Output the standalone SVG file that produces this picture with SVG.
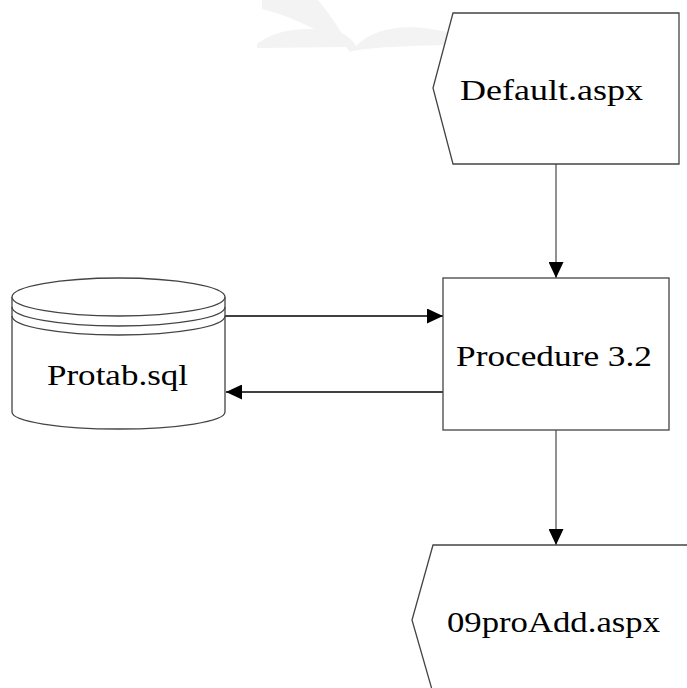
<svg xmlns="http://www.w3.org/2000/svg" width="687" height="688" viewBox="0 0 687 688">
  <style>
    .shape { fill: #ffffff; stroke: #444444; stroke-width: 1.3; }
    .label { font-family: "Liberation Serif", "Times New Roman", serif; font-size: 30px; fill: #000000; }
    .conn { fill: none; stroke-width: 1.3; }
  </style>
  <defs>
    <marker id="arrow" markerUnits="userSpaceOnUse" markerWidth="16" markerHeight="15" refX="16" refY="7.5" orient="auto">
      <path d="M0,0 L16,7.5 L0,15 Z" fill="#000000"/>
    </marker>
  </defs>
  <rect width="687" height="688" fill="#ffffff"/>
  <g id="watermark" fill="#f3f3f3">
    <path d="M262 0 L318 0 Q336 22 350 47 L338 44 Q305 20 262 9 Z"/>
    <path d="M257 44 Q285 22 340 32 Q352 38 356 46 Q385 18 447 32 L447 45 Q360 47 350 52 L346 47 L257 48 Z"/>
  </g>
  <g id="connectors">
    <line class="conn" x1="556" y1="164" x2="556" y2="278" stroke="#555555" marker-end="url(#arrow)"/>
    <line class="conn" x1="225" y1="316" x2="443" y2="316" stroke="#000000" marker-end="url(#arrow)"/>
    <line class="conn" x1="443" y1="392" x2="226" y2="392" stroke="#000000" marker-end="url(#arrow)"/>
    <line class="conn" x1="556" y1="430" x2="556" y2="545" stroke="#555555" marker-end="url(#arrow)"/>
  </g>
  <g id="node-default">
    <path class="shape" d="M453,13 L679,13 L679,164 L453,164 L433,88 Z"/>
    <text class="label" x="460" y="100" textLength="183" lengthAdjust="spacingAndGlyphs">Default.aspx</text>
  </g>
  <g id="node-procedure">
    <rect class="shape" x="443" y="278" width="226" height="152"/>
    <text class="label" x="456" y="366" textLength="196" lengthAdjust="spacingAndGlyphs">Procedure 3.2</text>
  </g>
  <g id="node-protab">
    <path class="shape" d="M12,297 L12,412 A106.5,17 0 0 0 225,412 L225,297"/>
    <ellipse class="shape" cx="118.5" cy="297" rx="106.5" ry="19"/>
    <path class="conn" stroke="#444444" d="M12,307 A106.5,19 0 0 0 225,307"/>
    <path class="conn" stroke="#444444" d="M12,316 A106.5,19 0 0 0 225,316"/>
    <text class="label" x="47" y="385" textLength="141" lengthAdjust="spacingAndGlyphs">Protab.sql</text>
  </g>
  <g id="node-proadd">
    <path class="shape" d="M433,545 L700,545 L700,700 L435,700 L412,620 Z"/>
    <text class="label" x="447" y="632" textLength="213" lengthAdjust="spacingAndGlyphs">09proAdd.aspx</text>
  </g>
</svg>
